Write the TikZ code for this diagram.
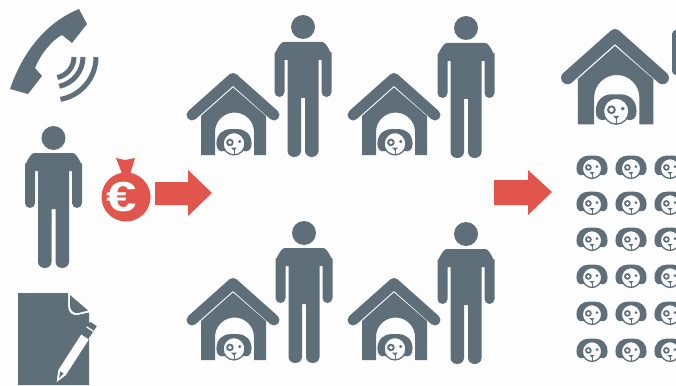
\documentclass[tikz,border=0pt]{standalone}
\usepackage{fontspec}
\usepackage{graphicx}
\newfontfamily\eurofont{Liberation Sans}
\definecolor{icon}{HTML}{5F6F79}
\definecolor{redicon}{HTML}{E2554D}
\definecolor{paper}{HTML}{FDFDFD}
\tikzset{
  wave/.style={draw=icon,line width=5,line cap=butt},
  roofline/.style={draw=icon,line cap=round,line join=round}
}
\newcommand{\personicon}[2]{%
\begin{scope}[shift={(#1,#2)}]
  \fill[icon] (0,0) circle (12);
  \fill[icon] (-28.5,25) to[out=-90,in=180] (-19,15) -- (19,15) to[out=0,in=-90] (28.5,25)
    -- (28.5,65) arc (0:180:5) -- (18.5,33) -- (15.5,33) -- (15.5,124) arc (0:180:6.75 and 6)
    -- (2,71) -- (-2,71) -- (-2,124) arc (0:180:6.75 and 6) -- (-15.5,33) -- (-18.5,33) -- (-18.5,65) arc (0:180:5) -- cycle;
\end{scope}}
\newcommand{\dogicon}[3]{%
\begin{scope}[shift={(#1,#2)},scale=#3]
  \fill[icon] (-4,-13.5) .. controls (-12,-13.5) and (-18.5,-8) .. (-18.5,2) .. controls (-18.5,8) and (-15,11) .. (-10,9.5)
    -- (10,9.5) .. controls (15,11) and (18.5,8) .. (18.5,2) .. controls (18.5,-8) and (12,-13.5) .. (4,-13.5) -- cycle;
  \filldraw[fill=paper,draw=icon,line width=1.3] (0,1.8) ellipse (11.5 and 11.8);
  \fill[icon] (-4.3,0.5) circle (4);
  \fill[paper] (-4.3,0.5) circle (2);
  \fill[icon] (6,-0.5) circle (1.8);
  \fill[icon] (-3,6) -- (3,6) -- (0,9) -- cycle;
  \draw[icon,line width=1] (0,8) -- (0,13);
\end{scope}}
\newcommand{\houseicon}[3]{%
\begin{scope}[shift={(#1,#2)},scale=#3]
  \draw[roofline,line width=11*#3] (-41,43) -- (0,6.5) -- (41,43);
  \fill[icon] (-32,83) -- (-32,44) -- (0,15.5) -- (33,44) -- (33,83) -- (21,83) -- (21,60) arc (0:-180:19.5) -- (-18,83) -- cycle;
\end{scope}
\dogicon{#1+1*#3}{#2+70*#3}{0.95*#3}}
\begin{document}
\begin{tikzpicture}[x=1pt,y=-1pt]
\useasboundingbox (0,0) rectangle (676,385);
\fill[paper] (0,0) rectangle (676,385);
\begin{scope}
\clip (0,0) rectangle (676,385);
% phone
\fill[icon] (10,89) .. controls (20,60) and (40,25) .. (79,9) -- (87,24) -- (72,43) -- (62,35)
  .. controls (52,40) and (40,55) .. (35,68) -- (42,76) -- (28,94) -- cycle;
\draw[wave] (74,57) arc (0:78:21);
\draw[wave] (83,57) arc (0:78:30);
\draw[wave] (96,57) arc (0:80:43);
% left person
\personicon{53.5}{138}
% money bag
\fill[redicon] (126,197) circle (24.5);
\fill[redicon] (116,158) -- (125,160) -- (135,158) -- (131,171) -- (130,175) -- (122,175) -- (121,171) -- cycle;
\node[text=paper,inner sep=0pt,font=\eurofont\bfseries\fontsize{42}{42}\selectfont] (euro) at (122,197) {\scalebox{1.3}[1]{€}};
% arrows
\fill[redicon] (155,182) -- (188,182) -- (188,170) -- (212,193) -- (188,216) -- (188,205) -- (155,205) -- cycle;
\fill[redicon] (494,180) -- (528,180) -- (528,170) -- (552,192) -- (528,215) -- (528,205) -- (494,205) -- cycle;
% document
\fill[icon] (18,293) -- (68,293) -- (68,306) .. controls (68,312) and (72,316) .. (78,315) -- (89,312.5) -- (89,385) -- (18,385) -- cycle;
\fill[icon] (70,295) -- (88,310.5) -- (78,313) .. controls (73,313.5) and (70,310) .. (70,305) -- cycle;
% pencil
\draw[paper,line width=9] (62,372.7) -- (85,337);
\fill[paper] (58.2,370.3) -- (65.8,375.1) -- (56.7,382) -- cycle;
\fill[icon] (60.3,371.5) -- (63.6,373.6) -- (59,378) -- cycle;
\draw[icon,line width=8] (86.4,334.8) -- (93.4,323.9);
\draw[paper,line width=1.3] (86.6,326.9) -- (93.2,331.1);
% middle rows
\houseicon{233}{72}{1}
\personicon{303}{27}
\houseicon{394}{72}{1}
\personicon{466}{28}
\houseicon{233}{277}{1}
\personicon{304}{233}
\houseicon{394}{277}{1}
\personicon{466}{234}
% right house
\houseicon{615}{28}{1.16}
\fill[icon,rounded corners=4] (672,30) rectangle (690,75);
% dog grid
\foreach \yy in {167,203,239,276,313,350}{
  \foreach \xx in {592,631,670}{
    \dogicon{\xx}{\yy}{0.84}
  }
}
\end{scope}
\end{tikzpicture}
\end{document}
